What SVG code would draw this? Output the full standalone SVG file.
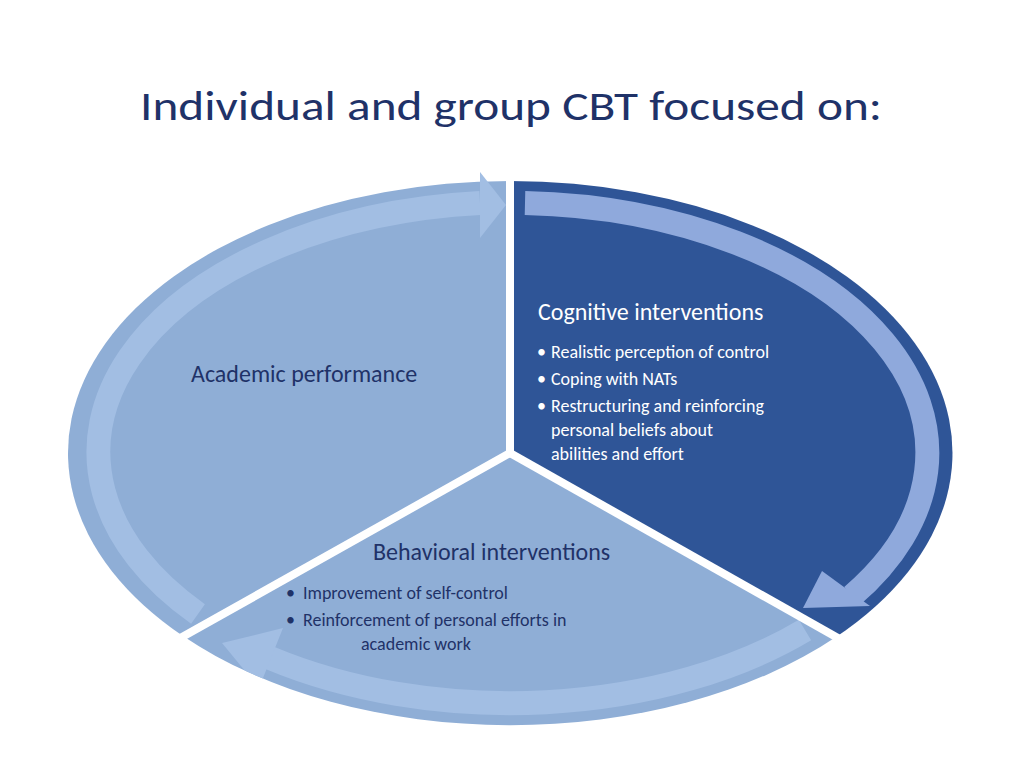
<svg xmlns="http://www.w3.org/2000/svg" width="1024" height="768" viewBox="0 0 1024 768">
<style>
.t{font-family:Carlito,"Open Sans","Liberation Sans",sans-serif;fill:#1F3268}
.w{font-family:Carlito,"Open Sans","Liberation Sans",sans-serif;fill:#FFFFFF}
.band{fill:none;stroke-width:24}
</style>
<rect width="1024" height="768" fill="#fff"/>
<text class="t" x="140" y="120" font-size="42" textLength="742" lengthAdjust="spacingAndGlyphs">Individual and group CBT focused on:</text>
<defs><clipPath id="ell"><ellipse cx="510" cy="453" rx="442" ry="272"/></clipPath></defs>
<g id="seg-academic">
<path d="M510,453 L183,636 A442 272 0 0 1 510,181 Z" fill="#8FAED6"/>
<path class="band" stroke="#A2BEE3" d="M198,614 A418 250 0 0 1 480,203"/>
<polygon points="480,172 506,205 480,238" fill="#A2BEE3"/>
<text class="t" x="191" y="382" font-size="24">Academic performance</text>
</g>
<g id="seg-cognitive">
<path d="M510,453 L510,181 A442 272 0 0 1 836,637 Z" fill="#2F5597"/>
<path class="band" stroke="#8FA9DC" d="M525,203 A418 250 0 0 1 852,596"/>
<polygon points="822,571 870,606 803,608" fill="#8FA9DC"/>
<text class="w" x="538" y="320" font-size="24">Cognitive interventions</text>
<g class="w" font-size="18">
<text x="537" y="358">•</text><text x="551" y="358">Realistic perception of control</text>
<text x="537" y="385">•</text><text x="551" y="385">Coping with NATs</text>
<text x="537" y="412">•</text><text x="551" y="412">Restructuring and reinforcing</text>
<text x="551" y="436">personal beliefs about</text>
<text x="551" y="460">abilities and effort</text>
</g>
</g>
<g id="seg-behavioral">
<path d="M510,453 L836,637 A442 272 0 0 1 183,636 Z" fill="#8FAED6"/>
<g clip-path="url(#ell)">
<path class="band" stroke="#A2BEE3" d="M805,630 A418 250 0 0 1 270,658"/>
<polygon points="283,628 259,688 222,643" fill="#A2BEE3"/>
</g>
<text class="t" x="373" y="560" font-size="24">Behavioral interventions</text>
<g class="t" font-size="18">
<text x="286" y="599">•</text><text x="303" y="599">Improvement of  self-control</text>
<text x="286" y="626">•</text><text x="303" y="626">Reinforcement of  personal efforts in</text>
<text x="361" y="650">academic work</text>
</g>
</g>
<g id="connectors" stroke="#fff" stroke-width="8" fill="none">
<line x1="510" y1="170" x2="510" y2="453"/>
<line x1="510" y1="453" x2="175" y2="641"/>
<line x1="510" y1="453" x2="845" y2="642"/>
</g>
</svg>
